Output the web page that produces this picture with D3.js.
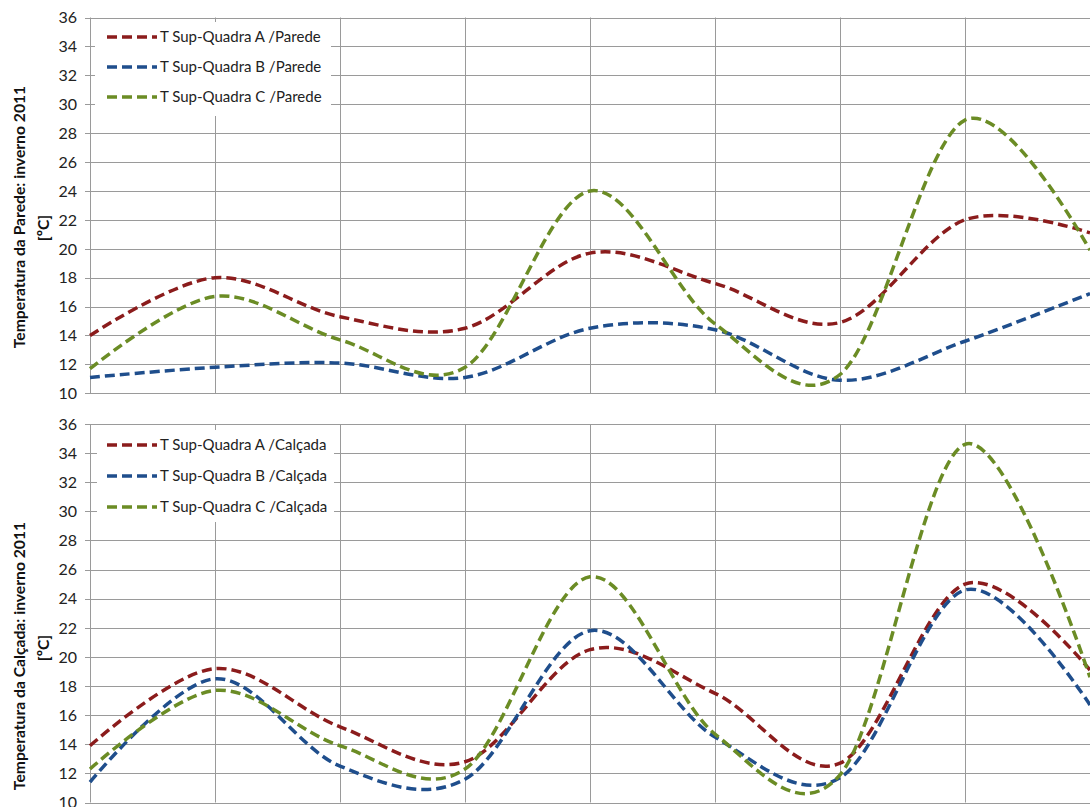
<!DOCTYPE html>
<html>
<head>
<meta charset="utf-8">
<script src="https://cdn.jsdelivr.net/npm/d3@7/dist/d3.min.js"></script>
<style>
  html, body { margin: 0; padding: 0; background: #fff; }
  svg { display: block; font-family: Lato, "Open Sans", sans-serif; }
</style>
</head>
<body>
<svg id="chart" width="1090" height="807"></svg>
<script>
// ---- data ----
const pointIndex = [0, 1, 2, 3, 4, 5, 6, 7, 8];
const yTickValues = [10, 12, 14, 16, 18, 20, 22, 24, 26, 28, 30, 32, 34, 36];

const paredeA = [14.0, 18.0, 15.3, 14.5, 19.7, 17.6, 14.9, 22.0, 21.1];
const paredeB = [11.1, 11.8, 12.1, 11.1, 14.5, 14.4, 10.9, 13.6, 16.9];
const paredeC = [11.7, 16.7, 13.7, 11.8, 24.0, 14.8, 11.3, 28.9, 19.9];

const calcadaA = [13.9, 19.2, 15.2, 12.8, 20.5, 17.5, 12.7, 25.0, 19.1];
const calcadaB = [11.4, 18.5, 12.5, 11.6, 21.8, 14.5, 11.7, 24.6, 16.7];
const calcadaC = [12.3, 17.7, 13.9, 12.3, 25.5, 14.7, 11.9, 34.6, 18.6];

const seriesNamesParede = ["T Sup-Quadra A /Parede", "T Sup-Quadra B /Parede", "T Sup-Quadra C /Parede"];
const seriesNamesCalcada = ["T Sup-Quadra A /Calçada", "T Sup-Quadra B /Calçada", "T Sup-Quadra C /Calçada"];
const colors = ["#8b1c1c", "#1f4e8c", "#6b8c25"];

// ---- layout ----
const svg = d3.select("#chart");
const plotLeft = 90, plotRight = 1090;
const x = d3.scaleLinear().domain([0, 8]).range([plotLeft, plotRight]);

const panels = [
  {
    top: 17.5, bottom: 393.3,
    series: [paredeA, paredeB, paredeC],
    names: seriesNamesParede,
    title: "Temperatura da Parede: inverno 2011",
    titleCy: 217, unitCy: 228,
    legend: { x: 95, y: 22, w: 236, h: 94, row0: 37, rowStep: 30 }
  },
  {
    top: 424, bottom: 802.5,
    series: [calcadaA, calcadaB, calcadaC],
    names: seriesNamesCalcada,
    title: "Temperatura da Calçada: inverno 2011",
    titleCy: 656, unitCy: 648,
    legend: { x: 97, y: 430, w: 237, h: 92, row0: 445, rowStep: 31 }
  }
];

const gridColor = "#9a9a9a";

panels.forEach(p => {
  const y = d3.scaleLinear().domain([10, 36]).range([p.bottom, p.top]);
  const g = svg.append("g");

  // horizontal gridlines (with small outward tick)
  g.selectAll("line.h").data(yTickValues).enter().append("line")
    .attr("x1", plotLeft - 5).attr("x2", plotRight)
    .attr("y1", d => Math.round(y(d)) + 0.5).attr("y2", d => Math.round(y(d)) + 0.5)
    .attr("stroke", gridColor).attr("stroke-width", 1);

  // vertical gridlines
  g.selectAll("line.v").data(pointIndex).enter().append("line")
    .attr("x1", d => Math.round(x(d)) + 0.5).attr("x2", d => Math.round(x(d)) + 0.5)
    .attr("y1", p.top).attr("y2", p.bottom)
    .attr("stroke", gridColor).attr("stroke-width", 1);

  // y tick labels
  g.selectAll("text.yt").data(yTickValues).enter().append("text")
    .attr("x", 77).attr("y", d => y(d))
    .attr("dy", "0.36em")
    .attr("text-anchor", "end")
    .attr("font-size", 16)
    .attr("fill", "#222")
    .text(d => d);

  // y axis title (two lines, rotated)
  g.append("text")
    .attr("transform", `translate(25,${p.titleCy}) rotate(-90)`)
    .attr("text-anchor", "middle")
    .attr("font-size", 15.7).attr("font-weight", "bold")
    .attr("fill", "#111")
    .text(p.title);
  g.append("text")
    .attr("transform", `translate(49,${p.unitCy}) rotate(-90)`)
    .attr("text-anchor", "middle")
    .attr("font-size", 15.7).attr("font-weight", "bold")
    .attr("fill", "#111")
    .text("[ºC]");

  // legend
  const L = p.legend;
  g.append("rect").attr("x", L.x).attr("y", L.y).attr("width", L.w).attr("height", L.h)
    .attr("fill", "#fff");
  p.names.forEach((name, i) => {
    const ry = L.row0 + i * L.rowStep;
    g.append("line")
      .attr("x1", 107).attr("x2", 157).attr("y1", ry).attr("y2", ry)
      .attr("stroke", colors[i]).attr("stroke-width", 3.5)
      .attr("stroke-dasharray", "10,5");
    g.append("text")
      .attr("x", 160).attr("y", ry).attr("dy", "0.35em")
      .attr("font-size", 15).attr("fill", "#222")
      .text(name);
  });

  // curves
  const line = d3.line()
    .x((d, i) => x(pointIndex[i]))
    .y(d => y(d))
    .curve(d3.curveCardinal.tension(0));

  p.series.forEach((s, i) => {
    g.append("path")
      .attr("d", line(s))
      .attr("fill", "none")
      .attr("stroke", colors[i])
      .attr("stroke-width", 3.5)
      .attr("stroke-dasharray", "10,5");
  });
});
</script>
</body>
</html>
